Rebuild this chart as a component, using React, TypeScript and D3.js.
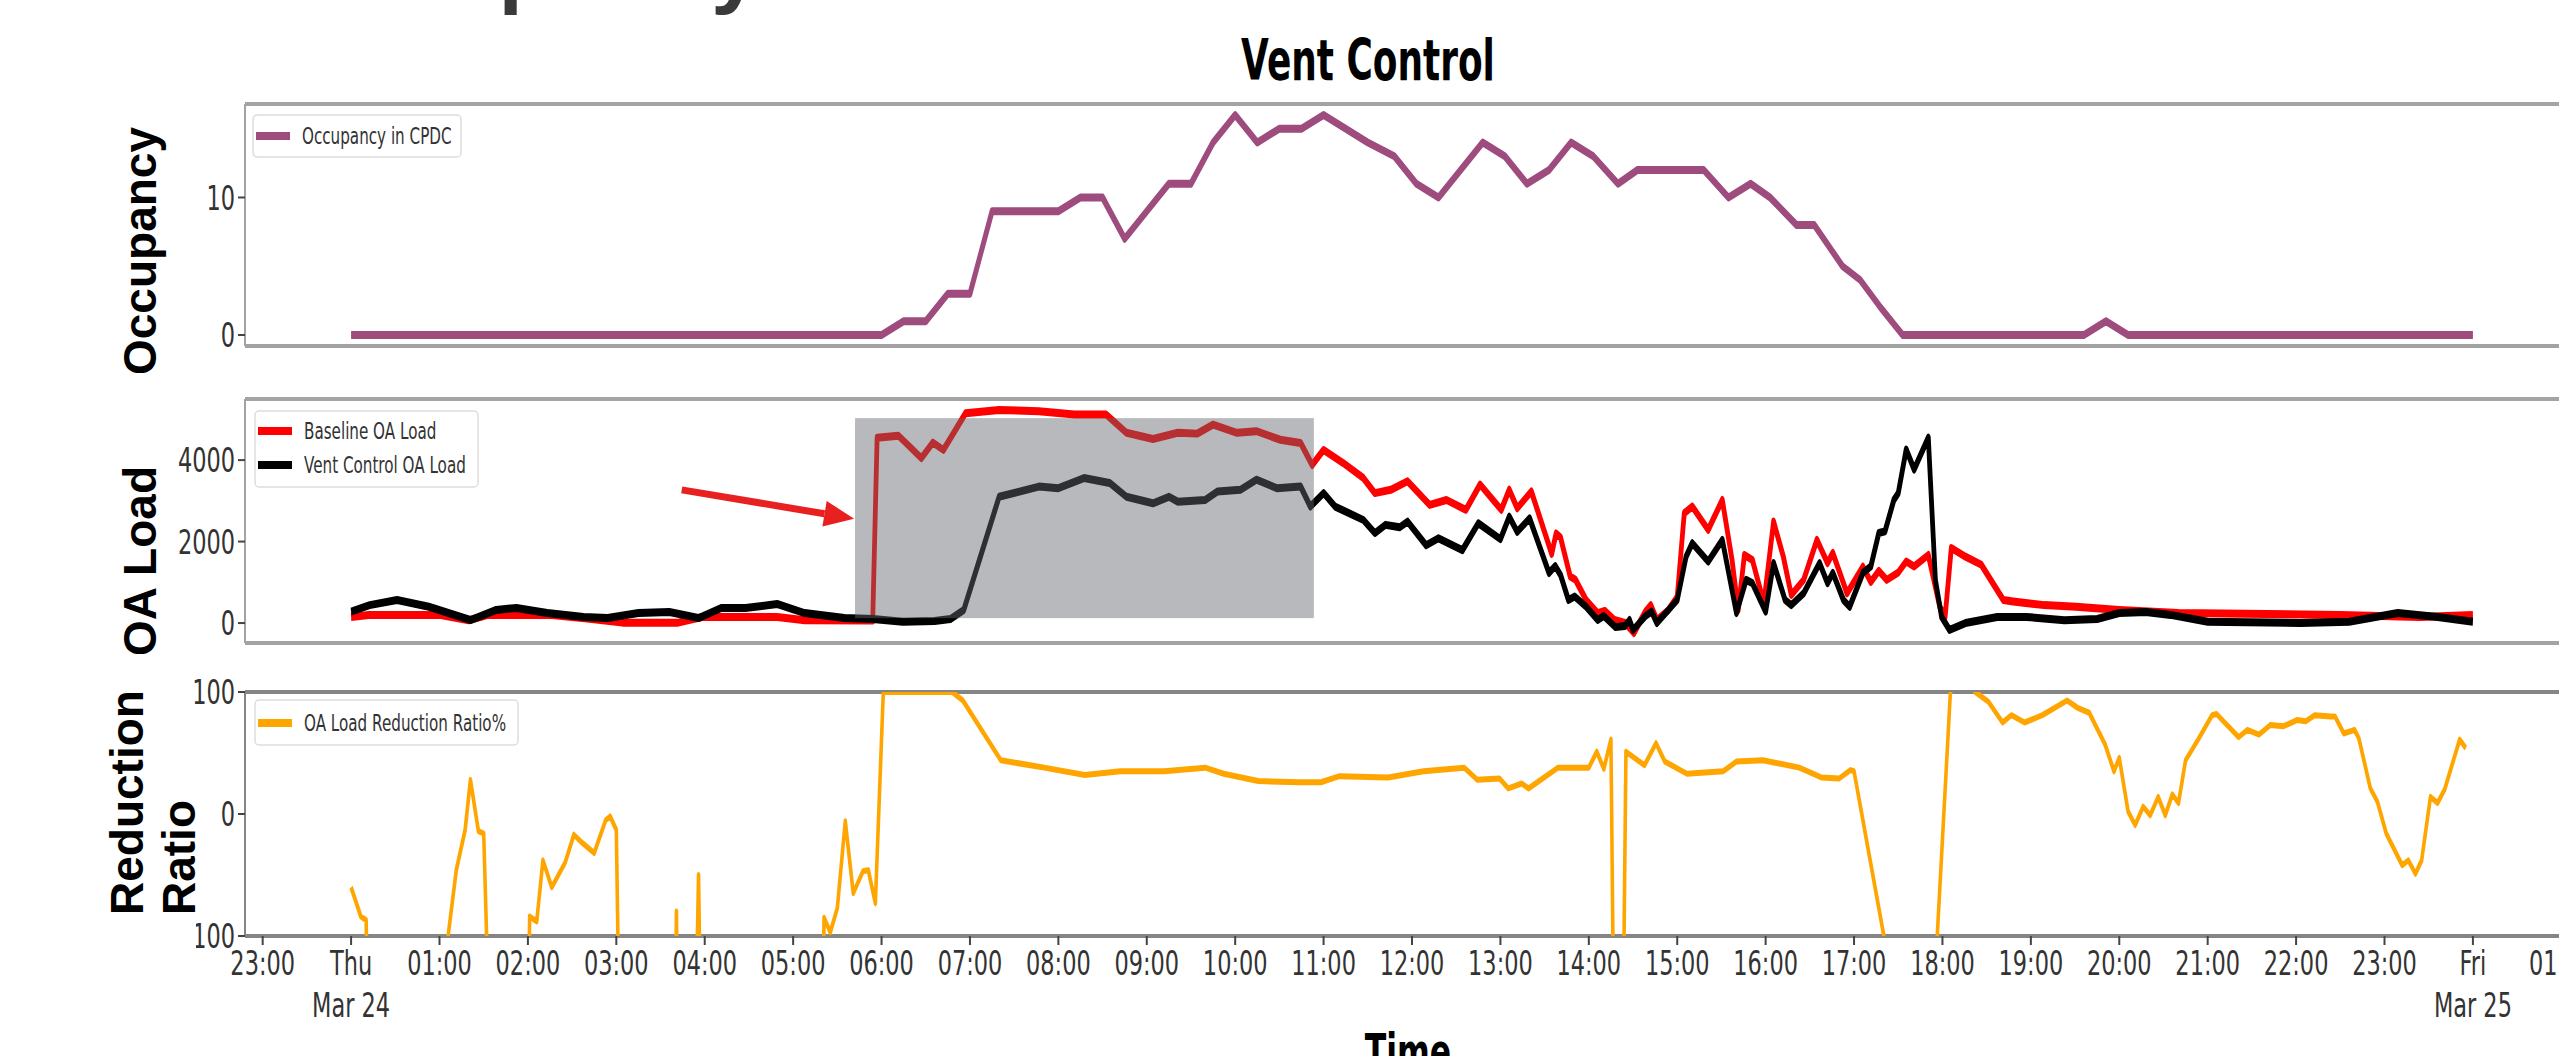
import React, { useEffect } from "react";
import * as d3 from "d3";

// time is in hours since Thu Mar 24 00:00
const occupancy: [number, number][] = [
  [0, 0], [6.0, 0], [6.25, 1], [6.5, 1], [6.75, 3], [7.0, 3], [7.25, 9], [7.5, 9], [7.75, 9], [8.0, 9],
  [8.25, 10], [8.5, 10], [8.75, 7], [9.0, 9], [9.25, 11], [9.5, 11], [9.75, 14], [10.0, 16], [10.25, 14],
  [10.5, 15], [10.75, 15], [11.0, 16], [11.25, 15], [11.5, 14], [11.8, 13], [12.05, 11], [12.3, 10],
  [12.55, 12], [12.8, 14], [13.05, 13], [13.3, 11], [13.55, 12], [13.8, 14], [14.05, 13], [14.33, 11],
  [14.55, 12], [15.3, 12], [15.58, 10], [15.83, 11], [16.05, 10], [16.35, 8], [16.55, 8], [16.87, 5],
  [17.07, 4], [17.3, 2], [17.55, 0], [19.6, 0], [19.85, 1], [20.1, 0], [24, 0],
];

const baselineLoad: [number, number][] = [
  [0, 150], [0.2, 200], [1.0, 200], [1.33, 70], [1.55, 200], [2.27, 200], [2.67, 110], [3.07, 10], [3.7, 10],
  [3.97, 150], [4.82, 150], [5.13, 70], [5.9, 60], [5.95, 4550], [6.19, 4600], [6.45, 4050], [6.58, 4430],
  [6.7, 4250], [6.95, 5150], [7.33, 5230], [7.78, 5200], [8.18, 5120], [8.54, 5120], [8.77, 4670],
  [9.07, 4520], [9.35, 4670], [9.57, 4650], [9.75, 4870], [10.02, 4670], [10.24, 4710], [10.51, 4500],
  [10.74, 4420], [10.87, 3880], [11.0, 4250], [11.22, 3930], [11.45, 3560], [11.58, 3190], [11.76, 3270],
  [11.95, 3480], [12.2, 2900], [12.39, 3020], [12.61, 2780], [12.77, 3400], [13.01, 2780], [13.1, 3270],
  [13.19, 2820], [13.35, 3230], [13.58, 1700], [13.63, 2200], [13.68, 2100], [13.79, 1140], [13.85, 1060],
  [13.97, 565], [14.1, 245], [14.18, 300], [14.29, 74], [14.41, 0], [14.51, -245], [14.64, 280], [14.7, 440],
  [14.77, 74], [14.9, 320], [15.0, 640], [15.08, 2700], [15.17, 2860], [15.35, 2290], [15.51, 3020],
  [15.62, 1550], [15.69, 320], [15.76, 1670], [15.85, 1550], [15.98, 490], [16.09, 2490], [16.2, 1630],
  [16.29, 690], [16.43, 1060], [16.58, 2040], [16.7, 1470], [16.76, 1720], [16.92, 730], [17.1, 1380],
  [17.19, 1010], [17.28, 1280], [17.37, 1060], [17.5, 1240], [17.59, 1510], [17.68, 1390], [17.84, 1670],
  [17.97, 400], [18.03, 150], [18.1, 1840], [18.26, 1630], [18.44, 1430], [18.69, 565], [18.8, 530],
  [19.15, 440], [19.51, 400], [20.0, 320], [20.67, 245], [22.5, 200], [23.4, 150], [24, 200],
];

const ventLoad: [number, number][] = [
  [0, 280], [0.21, 440], [0.52, 565], [0.88, 400], [1.35, 74], [1.64, 320], [1.87, 370], [2.22, 245],
  [2.63, 147], [2.9, 123], [3.25, 245], [3.6, 270], [3.93, 123], [4.19, 370], [4.46, 370], [4.82, 467],
  [5.13, 245], [5.58, 123], [5.9, 100], [6.24, 33], [6.6, 50], [6.78, 100], [6.93, 320], [7.33, 3100],
  [7.78, 3350], [8.0, 3310], [8.29, 3560], [8.58, 3440], [8.77, 3100], [9.07, 2940], [9.25, 3100],
  [9.35, 2980], [9.66, 3020], [9.8, 3230], [10.06, 3270], [10.24, 3520], [10.47, 3310], [10.74, 3350],
  [10.85, 2860], [11.0, 3190], [11.13, 2860], [11.45, 2530], [11.58, 2210], [11.7, 2410], [11.86, 2350],
  [11.95, 2490], [12.16, 1910], [12.3, 2080], [12.57, 1790], [12.75, 2450], [13.0, 2060], [13.1, 2610],
  [13.19, 2240], [13.33, 2570], [13.55, 1230], [13.62, 1400], [13.68, 1180], [13.77, 565], [13.84, 650],
  [13.97, 400], [14.1, 74], [14.17, 170], [14.3, -100], [14.41, -70], [14.46, 74], [14.5, -170],
  [14.64, 170], [14.71, 280], [14.77, 0], [14.9, 320], [15.0, 565], [15.1, 1630], [15.17, 1960],
  [15.35, 1510], [15.51, 2040], [15.67, 245], [15.78, 1060], [15.85, 980], [16.0, 280], [16.09, 1470],
  [16.22, 565], [16.29, 440], [16.43, 730], [16.61, 1470], [16.7, 980], [16.76, 1230], [16.88, 565],
  [16.95, 400], [17.1, 1230], [17.19, 1390], [17.28, 2210], [17.35, 2250], [17.45, 3020], [17.5, 3190],
  [17.59, 4260], [17.68, 3770], [17.84, 4550], [17.92, 1060], [17.99, 150], [18.08, -170], [18.26, 0],
  [18.62, 150], [18.95, 150], [19.38, 70], [19.75, 100], [20.0, 245], [20.3, 270], [20.58, 200],
  [21.0, 33], [22.05, 0], [22.6, 33], [23.15, 245], [23.6, 150], [24, 33],
];

const reductionRatio: [number, number][] = [
  [0.0, -60], [0.11, -84], [0.17, -87], [0.25, -400], [1.0, -400], [1.08, -110], [1.19, -46], [1.29, -13],
  [1.35, 28], [1.44, -14], [1.5, -16], [1.65, -400], [1.95, -400], [2.02, -84], [2.1, -88], [2.17, -38],
  [2.27, -60], [2.42, -40], [2.52, -17], [2.62, -24], [2.75, -32], [2.88, -5], [2.93, -2], [3.0, -13],
  [3.08, -400], [3.64, -400], [3.68, -80], [3.72, -400], [3.84, -400], [3.93, -50], [4.0, -400],
  [5.28, -400], [5.35, -85], [5.42, -97], [5.5, -77], [5.59, -6], [5.68, -65], [5.79, -47], [5.85, -46],
  [5.93, -73], [6.02, 100], [6.8, 100], [6.92, 93], [7.35, 44], [7.84, 38], [8.3, 32], [8.7, 35],
  [9.2, 35], [9.66, 38], [9.87, 33], [10.26, 27], [10.72, 26], [10.97, 26], [11.18, 31], [11.73, 30],
  [12.13, 35], [12.59, 38], [12.74, 28], [12.99, 29], [13.09, 21], [13.24, 25], [13.32, 21], [13.65, 38],
  [14.0, 38], [14.09, 51], [14.17, 37], [14.25, 61], [14.3, -300], [14.37, -300], [14.42, 51], [14.63, 40],
  [14.76, 58], [14.86, 43], [15.11, 33], [15.52, 35], [15.67, 43], [15.97, 44], [16.38, 38], [16.63, 30],
  [16.83, 29], [16.96, 36], [17.0, 35], [17.45, -145], [17.9, -155], [18.09, 100], [18.2, 115],
  [18.32, 108], [18.37, 100], [18.52, 92], [18.68, 75], [18.78, 81], [18.93, 75], [19.13, 81], [19.41, 93],
  [19.53, 87], [19.66, 83], [19.84, 57], [19.94, 35], [20.0, 46], [20.1, 2], [20.18, -9], [20.27, 6],
  [20.35, -1], [20.44, 14], [20.52, -1], [20.6, 16], [20.67, 9], [20.75, 44], [20.9, 62], [21.05, 81],
  [21.1, 82], [21.35, 63], [21.45, 69], [21.58, 65], [21.71, 73], [21.86, 72], [22.01, 77], [22.11, 76],
  [22.21, 81], [22.39, 80], [22.44, 80], [22.54, 66], [22.66, 69], [22.71, 62], [22.84, 21], [22.92, 10],
  [23.02, -16], [23.2, -42], [23.27, -38], [23.35, -49], [23.42, -38], [23.52, 14], [23.6, 9], [23.68, 20],
  [23.85, 61], [23.92, 54],
];

const xTickHours = d3.range(-1, 26);
const xTickLabels = [
  "23:00", "Thu\nMar 24", "01:00", "02:00", "03:00", "04:00", "05:00", "06:00", "07:00", "08:00", "09:00",
  "10:00", "11:00", "12:00", "13:00", "14:00", "15:00", "16:00", "17:00", "18:00", "19:00", "20:00",
  "21:00", "22:00", "23:00", "Fri\nMar 25", "01:00",
];
const occTicks = [0, 10];
const loadTicks = [0, 2000, 4000];
const ratioTicks = [-100, 0, 100];

// highlighted window and arrow on the OA Load panel (hours, load)
const shadedHours = [5.7, 10.89];
const shadedLoad = [120, 5030];
const arrowFrom = [3.74, 3270];
const arrowTo = [5.69, 2560];

const W = 2559;
const H = 1056;
const L = 245;
const R = 2579;
const SX = 0.66; // horizontal squeeze of the text
const LS = 0.6; // horizontal squeeze of the strokes

const x = d3.scaleLinear().domain([-1.2, 25.2]).range([L, R]);
const yOcc = d3.scaleLinear().domain([-0.8, 16.8]).range([346, 104]);
const yLoad = d3.scaleLinear().domain([-490, 5500]).range([643, 399]);
const yRatio = d3.scaleLinear().domain([-100, 100]).range([936, 692]);

function SText({ x, y, children, size = 34, anchor = "middle", weight = "normal", fill = "#333", sx = SX, family = "DejaVu Sans" }: any) {
  return (
    <text transform={`translate(${x},${y}) scale(${sx},1)`} textAnchor={anchor} fontSize={size}
      fontWeight={weight} fill={fill} fontFamily={family}>
      {children}
    </text>
  );
}

function Series({ data, y, color, width, clip }: any) {
  const line = d3.line<[number, number]>().x((d) => x(d[0]) / LS).y((d) => y(d[1]));
  return (
    <g clipPath={`url(#${clip})`}>
      <g transform={`scale(${LS},1)`}>
        <path d={line(data) || ""} fill="none" stroke={color} strokeWidth={width} strokeLinejoin="round" />
      </g>
    </g>
  );
}

function Frame({ y0, y1, color }: any) {
  return (
    <g>
      <line x1={L} x2={W} y1={y0} y2={y0} stroke={color} strokeWidth={4} />
      <line x1={L} x2={W} y1={y1} y2={y1} stroke={color} strokeWidth={4} />
      <line x1={L} x2={L} y1={y0} y2={y1} stroke={color} strokeWidth={2} />
    </g>
  );
}

function YAxis({ ticks, y, fmt }: any) {
  return (
    <g>
      {ticks.map((t: number) => (
        <g key={t}>
          <line x1={238} x2={L} y1={y(t)} y2={y(t)} stroke="#444" strokeWidth={2} />
          <SText x={235} y={y(t) + 12} anchor="end">{fmt ? fmt(t) : String(t)}</SText>
        </g>
      ))}
    </g>
  );
}

function Legend({ x0, y0, w, h, items }: any) {
  return (
    <g>
      <rect x={x0} y={y0} width={w} height={h} rx={4} fill="#fff" fillOpacity={0.85} stroke="#ddd" strokeWidth={1.5} />
      {items.map((it: any, i: number) => (
        <g key={it.label}>
          <line x1={x0 + 3} x2={x0 + 37} y1={it.cy} y2={it.cy} stroke={it.color} strokeWidth={8} />
          <SText x={x0 + 49} y={it.cy + 8} size={23} anchor="start" fill="#333">{it.label}</SText>
        </g>
      ))}
    </g>
  );
}

export default function App() {
  useEffect(() => {
    document.body.style.margin = "0";
  }, []);

  const ax0 = x(arrowFrom[0]), ay0 = yLoad(arrowFrom[1]);
  const ax1 = x(arrowTo[0]), ay1 = yLoad(arrowTo[1]);
  const ang = Math.atan2(ay1 - ay0, ax1 - ax0);
  const headLen = 30, headW = 13;
  const bx = ax1 - headLen * Math.cos(ang), by = ay1 - headLen * Math.sin(ang);
  const nx = -Math.sin(ang), ny = Math.cos(ang);
  const head = `${ax1},${ay1} ${bx + nx * headW},${by + ny * headW} ${bx - nx * headW},${by - ny * headW}`;

  return (
    <div style={{ position: "absolute", left: 0, top: 0 }}>
      <svg width={W} height={H} style={{ display: "block", background: "#fff" }}>
        <defs>
          <clipPath id="cOcc"><rect x={L} y={104} width={R - L} height={242} /></clipPath>
          <clipPath id="cLoad"><rect x={L} y={399} width={R - L} height={244} /></clipPath>
          <clipPath id="cRatio"><rect x={L} y={692} width={R - L} height={244} /></clipPath>
        </defs>

        {/* cut-off heading at the top edge */}
        <text x={287} y={-3} fontSize={88} fontWeight="bold" fontFamily="Liberation Mono" fill="#3a3a3a">Occupancy</text>

        <SText x={1368} y={80} size={57} weight="bold" fill="#000" sx={0.63}>Vent Control</SText>

        {/* Occupancy panel */}
        <Frame y0={104} y1={346} color="#a3a3a3" />
        <YAxis ticks={occTicks} y={yOcc} />
        <Series data={occupancy} y={yOcc} color="#9e4b7e" width={8} clip="cOcc" />
        <Legend x0={253} y0={115} w={208} h={42}
          items={[{ label: "Occupancy in CPDC", color: "#9e4b7e", cy: 136 }]} />

        {/* OA Load panel */}
        <Frame y0={399} y1={643} color="#a3a3a3" />
        <YAxis ticks={loadTicks} y={yLoad} />
        <Series data={baselineLoad} y={yLoad} color="#ff0000" width={8} clip="cLoad" />
        <Series data={ventLoad} y={yLoad} color="#000" width={8} clip="cLoad" />
        <rect x={x(shadedHours[0])} y={yLoad(shadedLoad[1])} width={x(shadedHours[1]) - x(shadedHours[0])}
          height={yLoad(shadedLoad[0]) - yLoad(shadedLoad[1])} fill="rgb(100,103,110)" fillOpacity={0.46} />
        <line x1={ax0} y1={ay0} x2={bx} y2={by} stroke="#e82020" strokeWidth={7} />
        <polygon points={head} fill="#e82020" />
        <Legend x0={255} y0={411} w={223} h={76}
          items={[
            { label: "Baseline OA Load", color: "#ff0000", cy: 431 },
            { label: "Vent Control OA Load", color: "#000", cy: 465 },
          ]} />

        {/* Reduction Ratio panel */}
        <Frame y0={692} y1={936} color="#858585" />
        <YAxis ticks={ratioTicks} y={yRatio} fmt={(t: number) => (t < 0 ? "\u2212" + Math.abs(t) : String(t))} />
        <Series data={reductionRatio} y={yRatio} color="#ffa500" width={6} clip="cRatio" />
        <Legend x0={255} y0={700} w={263} h={45}
          items={[{ label: "OA Load Reduction Ratio%", color: "#ffa500", cy: 723 }]} />

        {/* x axis */}
        {xTickHours.map((h, i) => {
          const parts = xTickLabels[i].split("\n");
          return (
            <g key={h}>
              <line x1={x(h)} x2={x(h)} y1={936} y2={945} stroke="#444" strokeWidth={2} />
              {parts.map((p, j) => (
                <SText key={j} x={x(h)} y={975 + j * 42}>{p}</SText>
              ))}
            </g>
          );
        })}

        {/* y axis titles */}
        <text transform="translate(156,251) rotate(-90)" textAnchor="middle" fontSize={46} fontWeight="bold"
          fontFamily="Liberation Sans" fill="#000">Occupancy</text>
        <text transform="translate(156,561) rotate(-90)" textAnchor="middle" fontSize={46} fontWeight="bold"
          fontFamily="Liberation Sans" fill="#000">OA Load</text>
        <rect x={162} y={905} width={34} height={70} fill="#fff" />
        <text transform="translate(143,915) rotate(-90)" textAnchor="start" fontSize={46} fontWeight="bold"
          fontFamily="Liberation Sans" fill="#000">Reduction</text>
        <text transform="translate(195,915) rotate(-90)" textAnchor="start" fontSize={46} fontWeight="bold"
          fontFamily="Liberation Sans" fill="#000">Ratio</text>

        <SText x={1408} y={1069} size={50} weight="bold" fill="#000" sx={0.63}>Time</SText>
      </svg>
    </div>
  );
}
